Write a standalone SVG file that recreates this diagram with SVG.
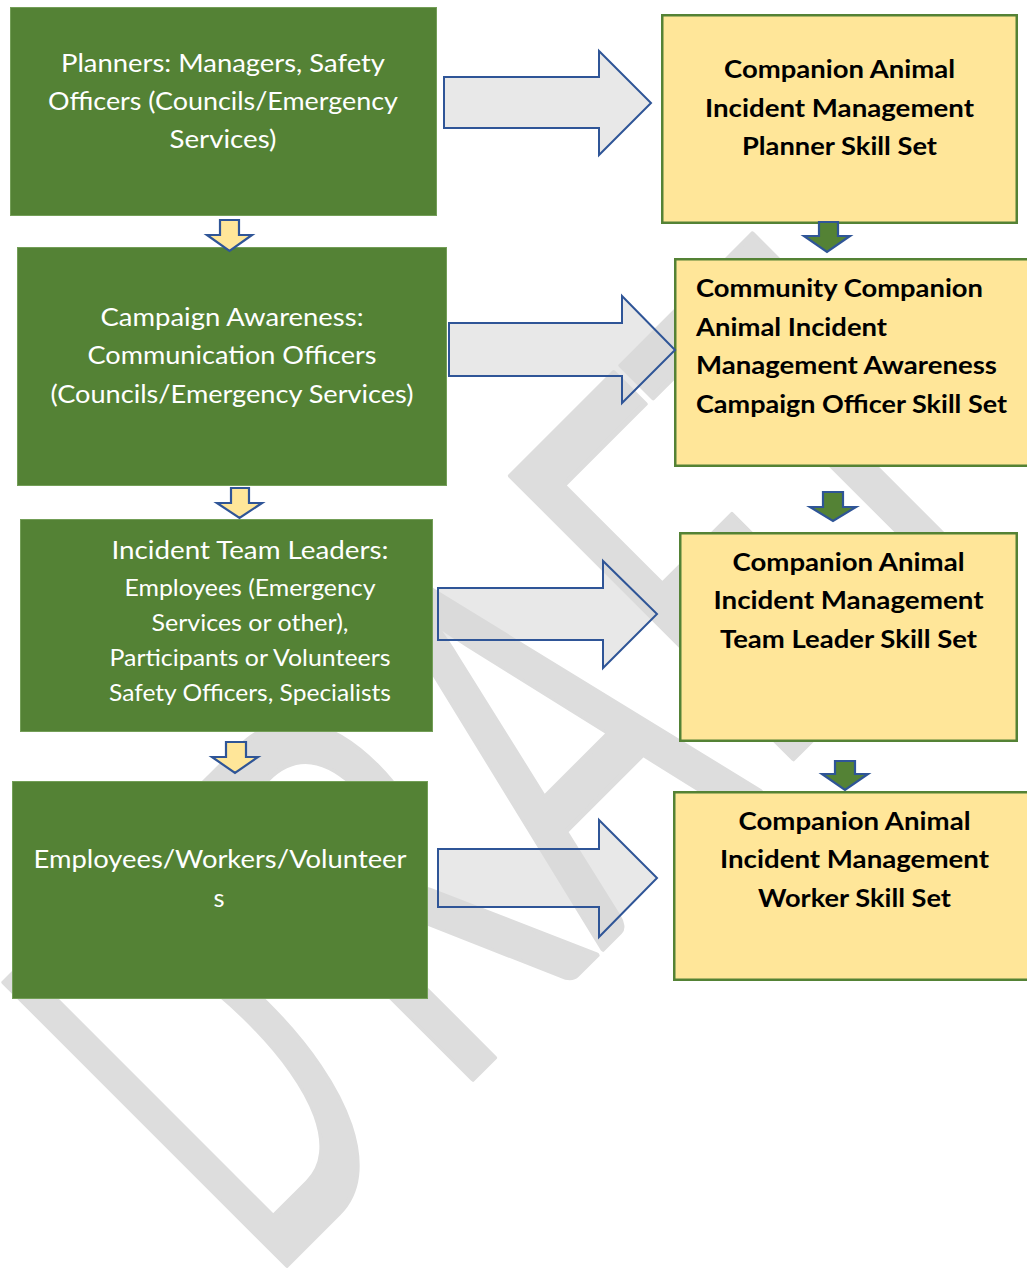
<svg xmlns="http://www.w3.org/2000/svg" width="1027" height="1272" viewBox="0 0 1027 1272">
  <style>
    .gbox { fill: #548235; stroke: #739e57; stroke-width: 1; }
    .ybox { fill: #ffe699; stroke: #548235; stroke-width: 2.5; }
    .gt { font-family: Lato, "Open Sans", "Liberation Sans", sans-serif; font-size: 25.5px; fill: #ffffff; text-anchor: middle; }
    .gs { font-size: 22.3px; }
    .yt { font-family: Lato, "Open Sans", "Liberation Sans", sans-serif; font-size: 24.5px; font-weight: 700; fill: #000000; text-anchor: middle; }
    .yl { text-anchor: start; }
    .big { fill: #d9d9d9; fill-opacity: 0.6; stroke: #2f5597; stroke-width: 2; stroke-linejoin: miter; }
    .sy { fill: #ffe699; stroke: #2f5597; stroke-width: 2.2; }
    .sg { fill: #548235; stroke: #2f5597; stroke-width: 2.2; }
    .wm { font-family: Lato, "Open Sans", "Liberation Sans", sans-serif; font-size: 558px; fill: #dddddd; stroke: #dddddd; stroke-width: 5; stroke-linejoin: round; text-anchor: middle; }
  </style>
  <rect x="0" y="0" width="1027" height="1272" fill="#ffffff"/>

  <g id="watermark" transform="translate(285 1267) rotate(-45)">
    <text class="wm" transform="translate(82 0) scale(0.5 1)">D</text>
    <text class="wm" transform="translate(339 0) scale(0.6 1)">R</text>
    <text class="wm" transform="translate(561 0) scale(0.6 1)">A</text>
    <text class="wm" transform="translate(782 0) scale(0.6 1)">F</text>
    <text class="wm" transform="translate(968 0) scale(0.6 1)">T</text>
  </g>

  <g id="node-planners">
    <rect class="gbox" x="10.5" y="7.5" width="426" height="208"/>
    <text class="gt" x="223" y="72" textLength="324" lengthAdjust="spacingAndGlyphs">Planners: Managers, Safety</text>
    <text class="gt" x="223" y="110" textLength="350" lengthAdjust="spacingAndGlyphs">Officers (Councils/Emergency</text>
    <text class="gt" x="223" y="148" textLength="107" lengthAdjust="spacingAndGlyphs">Services)</text>
  </g>

  <g id="node-campaign">
    <rect class="gbox" x="17.5" y="247.5" width="429" height="238"/>
    <text class="gt" x="232" y="326" textLength="263" lengthAdjust="spacingAndGlyphs">Campaign Awareness:</text>
    <text class="gt" x="232" y="364" textLength="289" lengthAdjust="spacingAndGlyphs">Communication Officers</text>
    <text class="gt" x="232" y="403" textLength="363" lengthAdjust="spacingAndGlyphs">(Councils/Emergency Services)</text>
  </g>

  <g id="node-team-leaders">
    <rect class="gbox" x="20.5" y="519.5" width="412" height="212"/>
    <text class="gt" x="250" y="559" textLength="277" lengthAdjust="spacingAndGlyphs">Incident Team Leaders:</text>
    <text class="gt gs" x="250" y="596" textLength="251" lengthAdjust="spacingAndGlyphs">Employees (Emergency</text>
    <text class="gt gs" x="250" y="631" textLength="197" lengthAdjust="spacingAndGlyphs">Services or other),</text>
    <text class="gt gs" x="250" y="666" textLength="281" lengthAdjust="spacingAndGlyphs">Participants or Volunteers</text>
    <text class="gt gs" x="250" y="701" textLength="282" lengthAdjust="spacingAndGlyphs">Safety Officers, Specialists</text>
  </g>

  <g id="node-workers">
    <rect class="gbox" x="12.5" y="781.5" width="415" height="217"/>
    <text class="gt" x="220" y="868" textLength="373" lengthAdjust="spacingAndGlyphs">Employees/Workers/Volunteer</text>
    <text class="gt" x="219" y="907">s</text>
  </g>

  <g id="node-planner-skill">
    <rect class="ybox" x="662.25" y="15.25" width="354.5" height="207.5"/>
    <text class="yt" x="839.5" y="78" textLength="231" lengthAdjust="spacingAndGlyphs">Companion Animal</text>
    <text class="yt" x="839.5" y="117" textLength="269" lengthAdjust="spacingAndGlyphs">Incident Management</text>
    <text class="yt" x="839.5" y="155" textLength="195" lengthAdjust="spacingAndGlyphs">Planner Skill Set</text>
  </g>

  <g id="node-campaign-skill">
    <rect class="ybox" x="675.25" y="259.25" width="357.5" height="206.5"/>
    <text class="yt yl" x="696" y="297" textLength="287" lengthAdjust="spacingAndGlyphs">Community Companion</text>
    <text class="yt yl" x="696" y="336" textLength="191" lengthAdjust="spacingAndGlyphs">Animal Incident</text>
    <text class="yt yl" x="696" y="374" textLength="301" lengthAdjust="spacingAndGlyphs">Management Awareness</text>
    <text class="yt yl" x="696" y="413" textLength="311" lengthAdjust="spacingAndGlyphs">Campaign Officer Skill Set</text>
  </g>

  <g id="node-team-leader-skill">
    <rect class="ybox" x="680.25" y="533.25" width="336.5" height="207.5"/>
    <text class="yt" x="848.5" y="571" textLength="232" lengthAdjust="spacingAndGlyphs">Companion Animal</text>
    <text class="yt" x="848.5" y="609" textLength="270" lengthAdjust="spacingAndGlyphs">Incident Management</text>
    <text class="yt" x="848.5" y="648" textLength="257" lengthAdjust="spacingAndGlyphs">Team Leader Skill Set</text>
  </g>

  <g id="node-worker-skill">
    <rect class="ybox" x="674.25" y="792.25" width="360.5" height="187.5"/>
    <text class="yt" x="854.5" y="830" textLength="232" lengthAdjust="spacingAndGlyphs">Companion Animal</text>
    <text class="yt" x="854.5" y="868" textLength="269" lengthAdjust="spacingAndGlyphs">Incident Management</text>
    <text class="yt" x="854.5" y="907" textLength="193" lengthAdjust="spacingAndGlyphs">Worker Skill Set</text>
  </g>

  <g id="connectors">
    <polygon class="big" points="444,77 599,77 599,51 651,103 599,155 599,128 444,128"/>
    <polygon class="big" points="449,323 622,323 622,296 675,350 622,403 622,376 449,376"/>
    <polygon class="big" points="438,588 603,588 603,561 657,614 603,668 603,640 438,640"/>
    <polygon class="big" points="438,849 599,849 599,820 657,878 599,937 599,907 438,907"/>
    <polygon class="sy" points="220,220 239,220 239,235 252,235 229.5,251 207,235 220,235"/>
    <polygon class="sy" points="231,488 249,488 249,503 262,503 239.5,518 217,503 231,503"/>
    <polygon class="sy" points="226,742 246,742 246,757 258,757 235,773 212,757 226,757"/>
    <polygon class="sg" points="819,222 838,222 838,236 850,236 827,252 804,236 819,236"/>
    <polygon class="sg" points="823,492 843,492 843,507 856,507 833,521 810,507 823,507"/>
    <polygon class="sg" points="835,761 855,761 855,774 868,774 845,790 822,774 835,774"/>
  </g>
</svg>
